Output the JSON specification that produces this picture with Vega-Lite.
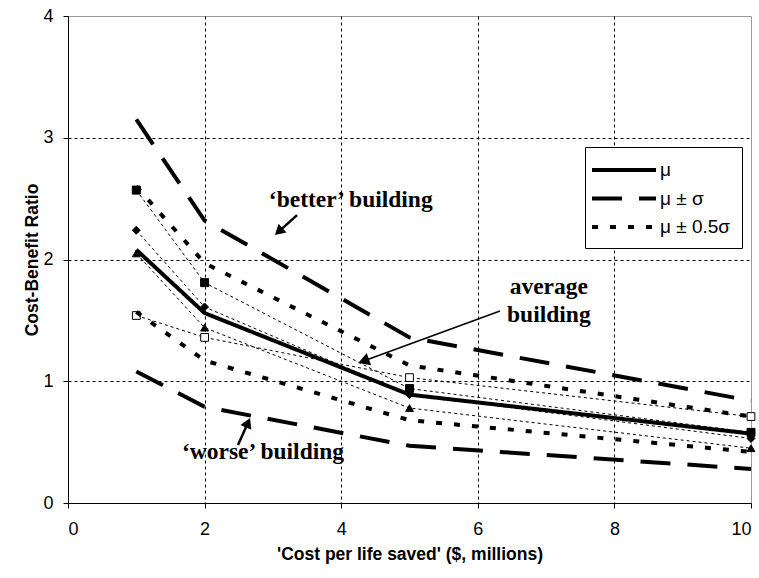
{
  "$schema": "https://vega.github.io/schema/vega-lite/v6.json",
  "width": 683,
  "height": 487,
  "autosize": {"type": "none"},
  "padding": {"left": 68, "top": 16, "right": 8, "bottom": 75},
  "background": "white",
  "config": {
    "view": {"stroke": "#9a9a9a", "strokeWidth": 1},
    "font": "Liberation Sans",
    "axis": {
      "domainColor": "black",
      "tickColor": "black",
      "tickSize": 5,
      "labelColor": "black",
      "labelFont": "Liberation Sans",
      "labelFontSize": 18,
      "titleFont": "Liberation Sans",
      "titleFontSize": 17.5,
      "titleFontWeight": "bold",
      "titleColor": "black",
      "gridColor": "black",
      "gridDash": [3, 3],
      "gridWidth": 1
    }
  },
  "datasets": {
    "curves": [
      {"x": 1, "y": 2.08, "curve": "mean", "band": "μ"},
      {"x": 2, "y": 1.56, "curve": "mean", "band": "μ"},
      {"x": 5, "y": 0.89, "curve": "mean", "band": "μ"},
      {"x": 10, "y": 0.57, "curve": "mean", "band": "μ"},
      {"x": 1, "y": 3.15, "curve": "plus1", "band": "μ ± σ"},
      {"x": 2, "y": 2.32, "curve": "plus1", "band": "μ ± σ"},
      {"x": 5, "y": 1.36, "curve": "plus1", "band": "μ ± σ"},
      {"x": 10, "y": 0.84, "curve": "plus1", "band": "μ ± σ"},
      {"x": 1, "y": 1.08, "curve": "minus1", "band": "μ ± σ"},
      {"x": 2, "y": 0.79, "curve": "minus1", "band": "μ ± σ"},
      {"x": 5, "y": 0.47, "curve": "minus1", "band": "μ ± σ"},
      {"x": 10, "y": 0.28, "curve": "minus1", "band": "μ ± σ"},
      {"x": 1, "y": 2.6, "curve": "plus05", "band": "μ ± 0.5σ"},
      {"x": 2, "y": 1.97, "curve": "plus05", "band": "μ ± 0.5σ"},
      {"x": 5, "y": 1.13, "curve": "plus05", "band": "μ ± 0.5σ"},
      {"x": 10, "y": 0.71, "curve": "plus05", "band": "μ ± 0.5σ"},
      {"x": 1, "y": 1.57, "curve": "minus05", "band": "μ ± 0.5σ"},
      {"x": 2, "y": 1.17, "curve": "minus05", "band": "μ ± 0.5σ"},
      {"x": 5, "y": 0.68, "curve": "minus05", "band": "μ ± 0.5σ"},
      {"x": 10, "y": 0.42, "curve": "minus05", "band": "μ ± 0.5σ"}
    ],
    "markers": [
      {"x": 1, "y": 2.57, "series": "A"},
      {"x": 2, "y": 1.81, "series": "A"},
      {"x": 5, "y": 0.94, "series": "A"},
      {"x": 10, "y": 0.58, "series": "A"},
      {"x": 1, "y": 2.24, "series": "B"},
      {"x": 2, "y": 1.61, "series": "B"},
      {"x": 5, "y": 0.89, "series": "B"},
      {"x": 10, "y": 0.53, "series": "B"},
      {"x": 1, "y": 2.05, "series": "C"},
      {"x": 2, "y": 1.44, "series": "C"},
      {"x": 5, "y": 0.78, "series": "C"},
      {"x": 10, "y": 0.45, "series": "C"},
      {"x": 1, "y": 1.54, "series": "D"},
      {"x": 2, "y": 1.36, "series": "D"},
      {"x": 5, "y": 1.03, "series": "D"},
      {"x": 10, "y": 0.71, "series": "D"}
    ],
    "notes": [
      {"x": 4.14, "y": 2.49, "label": "‘better’ building"},
      {"x": 7.04, "y": 1.774, "label": "average"},
      {"x": 7.04, "y": 1.544, "label": "building"},
      {"x": 2.855, "y": 0.419, "label": "‘worse’ building"}
    ],
    "arrows": [
      {"x": 3.353, "y": 2.365, "x2": 3.085, "y2": 2.229, "arrow": "better"},
      {"x": 6.325, "y": 1.577, "x2": 4.328, "y2": 1.166, "arrow": "average"},
      {"x": 2.489, "y": 0.476, "x2": 2.635, "y2": 0.66, "arrow": "worse"}
    ]
  },
  "layer": [
    {
      "data": {"name": "markers"},
      "mark": {"type": "line", "color": "black", "strokeWidth": 1, "strokeDash": [3, 3]},
      "encoding": {
        "x": {
          "field": "x", "type": "quantitative",
          "scale": {"domain": [0, 10], "nice": false, "zero": false},
          "axis": {
            "values": [0, 2, 4, 6, 8, 10],
            "format": "d",
            "title": "'Cost per life saved' ($, millions)",
            "labelPadding": 12,
            "titlePadding": 7,
            "gridOpacity": {"condition": {"test": "datum.value === 0 || datum.value === 10", "value": 0}, "value": 1}
          }
        },
        "y": {
          "field": "y", "type": "quantitative",
          "scale": {"domain": [0, 4], "nice": false, "zero": false},
          "axis": {
            "values": [0, 1, 2, 3, 4],
            "format": "d",
            "title": "Cost-Benefit Ratio",
            "labelPadding": 10,
            "titlePadding": 1,
            "gridOpacity": {"condition": {"test": "datum.value === 0 || datum.value === 4", "value": 0}, "value": 1}
          }
        },
        "detail": {"field": "series", "type": "nominal"}
      }
    },
    {
      "data": {"name": "markers"},
      "mark": {"type": "point", "stroke": "black", "strokeWidth": 1, "opacity": 1, "filled": false},
      "encoding": {
        "x": {"field": "x", "type": "quantitative"},
        "y": {"field": "y", "type": "quantitative"},
        "shape": {
          "field": "series", "type": "nominal",
          "scale": {"domain": ["A", "B", "C", "D"], "range": ["square", "diamond", "triangle-up", "square"]},
          "legend": null
        },
        "fill": {
          "field": "series", "type": "nominal",
          "scale": {"domain": ["A", "B", "C", "D"], "range": ["black", "black", "black", "white"]},
          "legend": null
        },
        "size": {
          "field": "series", "type": "nominal",
          "scale": {"domain": ["A", "B", "C", "D"], "range": [64, 60, 80, 60]},
          "legend": null
        }
      }
    },
    {
      "data": {"name": "curves"},
      "mark": {"type": "line", "color": "black", "strokeWidth": 4, "strokeCap": "butt"},
      "encoding": {
        "x": {"field": "x", "type": "quantitative"},
        "y": {"field": "y", "type": "quantitative"},
        "detail": {"field": "curve", "type": "nominal"},
        "strokeDash": {
          "field": "band", "type": "nominal",
          "scale": {"domain": ["μ", "μ ± σ", "μ ± 0.5σ"], "range": [[1, 0], [30, 17], [6, 12]]},
          "legend": {
            "title": null,
            "orient": "none",
            "legendX": 517,
            "legendY": 131,
            "strokeColor": "black",
            "fillColor": "white",
            "padding": 11,
            "symbolType": "M-1.6,0H4.8",
            "symbolSize": 400,
            "symbolStrokeWidth": 4,
            "symbolStrokeColor": "black",
            "labelFont": "Liberation Sans",
            "labelFontSize": 19,
            "labelColor": "black",
            "labelOffset": 40,
            "rowPadding": 6.5
          }
        }
      }
    },
    {
      "data": {"name": "arrows"},
      "transform": [{"filter": "datum.arrow !== 'average'"}],
      "mark": {"type": "rule", "color": "black", "strokeWidth": 2.5},
      "encoding": {
        "x": {"field": "x", "type": "quantitative"},
        "y": {"field": "y", "type": "quantitative"},
        "x2": {"field": "x2"},
        "y2": {"field": "y2"}
      }
    },
    {
      "data": {"name": "arrows"},
      "transform": [{"filter": "datum.arrow === 'average'"}],
      "mark": {"type": "rule", "color": "black", "strokeWidth": 1.5},
      "encoding": {
        "x": {"field": "x", "type": "quantitative"},
        "y": {"field": "y", "type": "quantitative"},
        "x2": {"field": "x2"},
        "y2": {"field": "y2"}
      }
    },
    {
      "data": {"name": "arrows"},
      "transform": [{"filter": "datum.arrow === 'better'"}],
      "mark": {"type": "point", "shape": "triangle-up", "filled": true, "color": "black", "opacity": 1, "size": 140, "angle": 227.7},
      "encoding": {
        "x": {"field": "x2", "type": "quantitative"},
        "y": {"field": "y2", "type": "quantitative"}
      }
    },
    {
      "data": {"name": "arrows"},
      "transform": [{"filter": "datum.arrow === 'average'"}],
      "mark": {"type": "point", "shape": "triangle-up", "filled": true, "color": "black", "opacity": 1, "size": 170, "angle": 250.3},
      "encoding": {
        "x": {"field": "x2", "type": "quantitative"},
        "y": {"field": "y2", "type": "quantitative"}
      }
    },
    {
      "data": {"name": "arrows"},
      "transform": [{"filter": "datum.arrow === 'worse'"}],
      "mark": {"type": "point", "shape": "triangle-up", "filled": true, "color": "black", "opacity": 1, "size": 140, "angle": 24},
      "encoding": {
        "x": {"field": "x2", "type": "quantitative"},
        "y": {"field": "y2", "type": "quantitative"}
      }
    },
    {
      "data": {"name": "notes"},
      "mark": {"type": "text", "font": "Liberation Serif", "fontWeight": "bold", "fontSize": 23.5, "color": "black", "align": "center", "baseline": "middle"},
      "encoding": {
        "x": {"field": "x", "type": "quantitative"},
        "y": {"field": "y", "type": "quantitative"},
        "text": {"field": "label", "type": "nominal"}
      }
    }
  ]
}
